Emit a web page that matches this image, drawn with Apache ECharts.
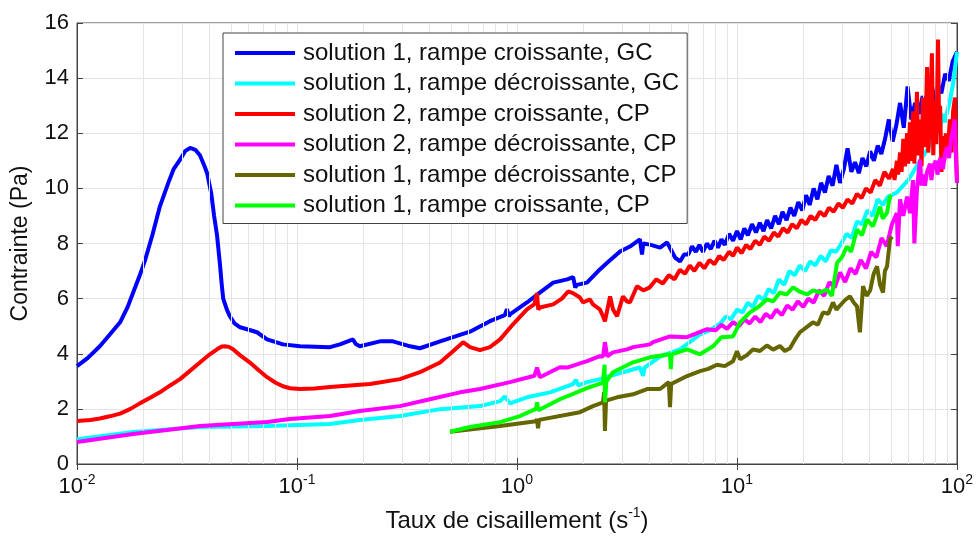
<!DOCTYPE html>
<html>
<head>
<meta charset="utf-8">
<script src="https://cdn.jsdelivr.net/npm/echarts@6/dist/echarts.min.js"></script>
<style>
  html, body { margin: 0; padding: 0; background: #fff; }
  #main { width: 978px; height: 538px; }
</style>
</head>
<body>
<div id="main"></div>
<script>
// noms des courbes (légende)
var names = [
    'solution 1, rampe croissante, GC',
    'solution 1, rampe décroissante, GC',
    'solution 2, rampe croissante, CP',
    'solution 2, rampe décroissante, CP',
    'solution 1, rampe décroissante, CP',
    'solution 1, rampe croissante, CP'
];
var colors = ['#0000ff', '#00ffff', '#ff0000', '#ff00ff', '#666600', '#00ff00'];

// [taux de cisaillement (s-1), contrainte (Pa)]
var s1CroissGC = [
    [0.01, 3.55], [0.0112, 3.85], [0.0127, 4.27], [0.0141, 4.7], [0.0157, 5.14], [0.017, 5.7],
    [0.018, 6.22], [0.0192, 6.8], [0.0204, 7.4], [0.022, 8.3], [0.0238, 9.34], [0.026, 10.2],
    [0.0275, 10.7], [0.0294, 11.04], [0.031, 11.35], [0.0327, 11.47], [0.0345, 11.4], [0.0362, 11.2],
    [0.038, 10.8], [0.039, 10.56], [0.0408, 9.8], [0.042, 9.0], [0.0433, 8.3], [0.0447, 7.2],
    [0.0455, 6.5], [0.0462, 6.0], [0.048, 5.6], [0.0495, 5.36], [0.052, 5.1], [0.0551, 4.96],
    [0.0593, 4.89], [0.0658, 4.78], [0.0731, 4.52], [0.0863, 4.34], [0.1033, 4.27], [0.1413, 4.24],
    [0.1567, 4.34], [0.1797, 4.52], [0.185, 4.35], [0.193, 4.27], [0.238, 4.45], [0.273, 4.45],
    [0.327, 4.27], [0.362, 4.2], [0.447, 4.45], [0.611, 4.8], [0.753, 5.18], [0.88, 5.4], [0.9, 5.62],
    [0.92, 5.35], [0.929, 5.43], [1.11, 5.86], [1.27, 6.22], [1.46, 6.58], [1.69, 6.7], [1.8, 6.78],
    [1.84, 6.4], [1.87, 6.5], [2.08, 6.58], [2.38, 7.06], [2.57, 7.3], [2.94, 7.71], [3.26, 7.89],
    [3.62, 8.15], [3.7, 7.6], [3.75, 8.0], [4.02, 7.96], [4.47, 7.85], [4.81, 8.04], [5.23, 7.49],
    [5.51, 7.35], [5.75, 7.6], [6.0, 7.6], [6.25, 7.9], [6.5, 7.7], [6.75, 7.95], [7.0, 7.7], [7.3, 8.0],
    [7.6, 7.8], [7.9, 8.1], [8.2, 7.85], [8.5, 8.15], [8.8, 7.95], [9.2, 8.35], [9.6, 8.1], [10.0, 8.45],
    [10.4, 8.15], [10.8, 8.55], [11.2, 8.3], [11.7, 8.7], [12.2, 8.4], [12.7, 8.75], [13.2, 8.45],
    [13.7, 8.85], [14.3, 8.55], [14.9, 9.0], [15.5, 8.7], [16.1, 9.15], [16.8, 8.85], [17.5, 9.3],
    [18.2, 9.0], [19.0, 9.5], [19.8, 9.2], [20.6, 9.75], [21.4, 9.4], [22.3, 10.0], [23.2, 9.6],
    [24.1, 10.2], [25.1, 9.85], [26.1, 10.45], [27.2, 10.1], [28.3, 10.85], [29.4, 10.2], [30.6, 10.7],
    [31.8, 11.45], [33.1, 10.6], [34.4, 10.95], [35.8, 10.55], [37.2, 11.1], [38.7, 10.8], [40.3, 11.35],
    [41.9, 11.0], [43.6, 11.55], [45.3, 11.25], [47.1, 11.8], [49.0, 12.5], [51.0, 11.7], [53.0, 12.3],
    [55.1, 13.1], [57.3, 12.2], [59.6, 13.7], [62.0, 12.5], [64.5, 13.1], [67.1, 12.7], [69.8, 13.35],
    [72.6, 12.9], [75.5, 13.45], [78.5, 13.1], [81.6, 13.8], [84.9, 13.45], [88.3, 14.15], [91.8, 13.9],
    [95.5, 14.6], [100, 14.95]
];
var s1DecroissGC = [
    [0.01, 0.9], [0.018, 1.16], [0.03622, 1.34], [0.0731, 1.38], [0.1413, 1.45], [0.193, 1.6],
    [0.2937, 1.74], [0.447, 1.99], [0.679, 2.1], [0.838, 2.28], [0.88, 2.45], [0.929, 2.2], [1.11, 2.42],
    [1.413, 2.6], [1.797, 2.9], [1.85, 3.05], [1.9, 2.85], [2.08, 2.97], [2.38, 3.08], [2.94, 3.3],
    [3.62, 3.5], [3.74, 3.2], [3.8, 3.5], [4.47, 3.9], [5.51, 4.16], [6.79, 4.7], [7.5, 4.85],
    [8.4, 5.1], [8.9, 5.35], [9.4, 5.25], [10.0, 5.6], [10.6, 5.5], [11.2, 5.85], [11.8, 5.7],
    [12.5, 6.1], [13.2, 5.95], [13.9, 6.35], [14.7, 6.2], [15.5, 6.7], [16.4, 6.5], [17.3, 7.0],
    [18.3, 6.85], [19.3, 7.2], [20.4, 7.0], [21.5, 7.35], [22.7, 7.2], [24.0, 7.55], [25.3, 7.35],
    [26.7, 7.75], [28.2, 7.7], [29.8, 8.0], [31.5, 8.35], [33.2, 8.2], [35.1, 8.8], [37.0, 8.7],
    [39.1, 9.2], [41.3, 9.0], [43.6, 9.6], [46.0, 9.4], [48.6, 9.7], [53.3, 9.85], [60, 10.3],
    [67.9, 11.0], [76, 11.6], [83.8, 12.2], [86.4, 12.7], [88, 12.4], [92.9, 13.2], [96, 13.8],
    [100, 14.95]
];
var s2CroissCP = [
    [0.01, 1.56], [0.0115, 1.6], [0.0127, 1.65], [0.0141, 1.73], [0.0157, 1.83], [0.0175, 2.0],
    [0.0193, 2.2], [0.0215, 2.4], [0.0238, 2.6], [0.0265, 2.85], [0.0294, 3.08], [0.0325, 3.37],
    [0.0362, 3.68], [0.04, 3.97], [0.0433, 4.16], [0.0455, 4.26], [0.0471, 4.27], [0.049, 4.25],
    [0.0512, 4.16], [0.055, 3.95], [0.0611, 3.68], [0.067, 3.4], [0.0731, 3.15], [0.08, 2.95],
    [0.0863, 2.82], [0.093, 2.75], [0.1033, 2.72], [0.12, 2.74], [0.1413, 2.79], [0.1567, 2.82],
    [0.2148, 2.9], [0.2937, 3.08], [0.362, 3.33], [0.447, 3.68], [0.512, 4.09], [0.569, 4.42],
    [0.611, 4.24], [0.679, 4.13], [0.753, 4.24], [0.838, 4.52], [0.959, 5.07], [1.11, 5.61], [1.2, 5.8],
    [1.233, 6.2], [1.25, 5.6], [1.27, 5.68], [1.46, 5.79], [1.6, 6.0], [1.706, 6.26], [1.797, 6.2],
    [1.932, 6.04], [1.995, 5.86], [2.147, 5.97], [2.215, 5.79], [2.38, 5.61], [2.46, 5.36], [2.51, 5.18],
    [2.65, 6.08], [2.73, 5.61], [2.85, 5.36], [3.03, 6.08], [3.16, 5.9], [3.26, 5.86], [3.51, 6.45],
    [3.75, 6.3], [4.0, 6.4], [4.3, 6.7], [4.6, 6.55], [4.9, 6.85], [5.2, 6.7], [5.5, 7.05], [5.8, 6.9],
    [6.1, 7.2], [6.4, 7.0], [6.75, 7.3], [7.1, 7.1], [7.5, 7.4], [7.9, 7.25], [8.3, 7.55], [8.7, 7.4],
    [9.2, 7.7], [9.6, 7.55], [10.0, 7.85], [10.5, 7.65], [11.0, 7.95], [11.5, 7.8], [12.1, 8.1],
    [12.7, 7.95], [13.3, 8.25], [14.0, 8.1], [14.7, 8.4], [15.4, 8.25], [16.2, 8.55], [17.0, 8.4],
    [17.8, 8.7], [18.7, 8.55], [19.6, 8.85], [20.6, 8.7], [21.6, 9.0], [22.7, 8.85], [23.8, 9.15],
    [25.0, 9.0], [26.2, 9.3], [27.5, 9.15], [28.9, 9.45], [30.3, 9.3], [31.8, 9.6], [33.4, 9.45],
    [35.1, 9.8], [36.8, 9.65], [38.6, 10.0], [40.5, 9.85], [42.5, 10.3], [44.6, 10.1], [46.8, 10.6],
    [49.1, 10.35], [51.2, 10.7], [52, 10.3], [53.3, 11.0], [54, 10.5], [55.1, 11.3], [56, 10.6],
    [57, 11.8], [58, 10.8], [59.3, 12.0], [60, 10.9], [61.1, 12.4], [62, 11.0], [63.1, 12.8], [64, 10.9],
    [65.8, 13.5], [66.5, 11.2], [67.9, 12.5], [69, 10.8], [70, 13.3], [71, 11.5], [72, 12.2],
    [73.1, 14.4], [74, 11.3], [75.4, 12.5], [76.9, 14.9], [78, 11.2], [79.4, 13.2], [80.5, 11.6],
    [82, 15.4], [83, 12.0], [83.8, 13.0], [85, 10.6], [86.4, 11.9], [87.5, 11.0], [89, 12.0],
    [90.5, 11.2], [92.9, 12.5], [94.5, 11.3], [96, 12.8], [97.9, 13.3], [99, 11.5], [100, 10.2]
];
var s2DecroissCP = [
    [0.01, 0.8], [0.018, 1.09], [0.02565, 1.23], [0.03622, 1.38], [0.0512, 1.45], [0.0731, 1.52],
    [0.0929, 1.63], [0.1413, 1.74], [0.193, 1.92], [0.2937, 2.1], [0.402, 2.35], [0.551, 2.6],
    [0.679, 2.72], [0.929, 2.97], [1.2, 3.2], [1.233, 3.5], [1.27, 3.15], [1.567, 3.51], [1.69, 3.5],
    [2.08, 3.73], [2.38, 3.91], [2.46, 3.9], [2.51, 4.42], [2.57, 3.91], [2.73, 4.05], [3.16, 4.16],
    [3.37, 4.24], [4.02, 4.34], [4.15, 4.42], [4.96, 4.63], [5.93, 4.6], [7.31, 4.89], [8.0, 4.85],
    [8.5, 5.05], [9.0, 4.9], [9.6, 5.15], [10.2, 5.0], [10.8, 5.25], [11.4, 5.1], [12.1, 5.35],
    [12.8, 5.15], [13.5, 5.45], [14.3, 5.3], [15.1, 5.6], [16.0, 5.4], [16.9, 5.75], [17.9, 5.6],
    [18.9, 5.9], [20.0, 5.7], [21.1, 6.0], [22.3, 5.85], [23.6, 6.3], [24.9, 6.1], [26.3, 6.6],
    [27.8, 6.4], [29.4, 6.95], [31.0, 6.6], [32.8, 7.1], [34.6, 6.9], [36.5, 7.4], [38.6, 7.1],
    [40.7, 7.7], [43.0, 7.5], [45.4, 8.2], [47.9, 7.9], [50.6, 8.7], [53.3, 9.1], [53.8, 7.9],
    [55.1, 9.6], [57, 9.0], [59.3, 9.7], [61.1, 9.1], [63.1, 10.3], [64, 8.0], [65.8, 10.0],
    [67.9, 11.04], [69, 10.1], [70, 10.5], [71.5, 10.1], [73.1, 10.6], [75.4, 10.9], [76.5, 10.3],
    [77.8, 10.8], [80, 11.0], [81.5, 10.5], [83.8, 11.1], [86.4, 10.7], [88, 11.2], [90.1, 11.5],
    [92, 11.1], [94, 11.8], [95.9, 12.1], [97.5, 12.5], [99, 11.0], [100, 10.2]
];
var s1DecroissCP = [
    [0.496, 1.17], [0.838, 1.38], [1.22, 1.55], [1.233, 1.63], [1.246, 1.3], [1.26, 1.6], [1.932, 1.88],
    [2.215, 2.1], [2.46, 2.24], [2.49, 2.6], [2.51, 1.2], [2.54, 2.3], [2.85, 2.42], [3.37, 2.53],
    [3.9, 2.72], [4.47, 2.72], [4.9, 2.97], [4.96, 2.06], [5.02, 2.9], [5.93, 3.19], [6.79, 3.37],
    [7.4, 3.45], [8.11, 3.6], [8.8, 3.55], [9.59, 3.73], [10.0, 4.09], [10.33, 3.8], [11.1, 3.95],
    [11.83, 4.16], [12.7, 4.1], [13.68, 4.3], [14.6, 4.15], [15.67, 4.28], [16.5, 4.1], [17.41, 4.2],
    [18.3, 4.5], [19.32, 4.78], [20.6, 4.95], [22.15, 5.14], [23.3, 5.05], [24.6, 5.5], [26, 5.45],
    [27.3, 5.86], [28.3, 5.6], [29.4, 5.75], [31, 5.95], [32.6, 6.08], [34, 5.85], [35.1, 5.72],
    [36.2, 4.78], [37.4, 6.45], [38.8, 6.1], [40.3, 6.3], [41.8, 6.9], [43.3, 7.17], [44.7, 6.5],
    [46.1, 6.22], [47, 7.0], [48.1, 7.17], [49.6, 8.15], [50.7, 8.25]
];
var s1CroissCP = [
    [0.496, 1.17], [0.611, 1.34], [0.838, 1.52], [1.032, 1.74], [1.22, 2.0], [1.233, 2.24], [1.25, 1.95],
    [1.567, 2.35], [2.08, 2.75], [2.46, 2.95], [2.5, 3.6], [2.51, 2.24], [2.55, 3.0], [2.73, 3.33],
    [3.37, 3.69], [4.02, 3.87], [4.96, 3.98], [5.0, 3.44], [5.05, 3.98], [5.93, 4.16], [6.79, 3.98],
    [7.78, 4.27], [8.5, 4.6], [9.59, 4.63], [10.33, 5.14], [11.46, 5.5], [12.5, 5.7], [13.68, 5.97],
    [14.6, 5.9], [15.67, 6.22], [16.8, 6.15], [17.98, 6.41], [19.3, 6.25], [20.8, 6.15], [22.2, 6.3],
    [23.8, 6.22], [25.6, 6.33], [27, 6.1], [28.5, 7.3], [30, 7.5], [31.6, 7.89], [33, 7.7], [35.1, 8.5],
    [37, 8.3], [39, 8.87], [41.5, 8.62], [44.7, 9.34], [46, 8.9], [48.1, 9.12], [49.5, 9.7], [50.7, 9.7]
];
var seriesData = [s1CroissGC, s1DecroissGC, s2CroissCP, s2DecroissCP, s1DecroissCP, s1CroissCP];

// graduations secondaires de l'axe log (quadrillage)
var minorTicks = [0.02, 0.03, 0.04, 0.05, 0.06, 0.07, 0.08, 0.09,
    0.2, 0.3, 0.4, 0.5, 0.6, 0.7, 0.8, 0.9,
    2, 3, 4, 5, 6, 7, 8, 9,
    20, 30, 40, 50, 60, 70, 80, 90];

var font = 'Liberation Sans, Arial, sans-serif';
var gridColor = '#e4e4e4';

var myChart = echarts.init(document.getElementById('main'));

var series = [{
    name: 'minor',
    type: 'line',
    data: [],
    z: 1,
    silent: true,
    markLine: {
        silent: true,
        symbol: 'none',
        label: { show: false },
        lineStyle: { color: gridColor, type: 'solid', width: 1 },
        data: minorTicks.map(function (v) { return { xAxis: v }; })
    }
}];
var legendData = [];
for (var i = 0; i < names.length; i++) {
    series.push({
        name: names[i],
        type: 'line',
        data: seriesData[i],
        showSymbol: false,
        symbol: 'rect',
        itemStyle: { color: colors[i], borderColor: colors[i], borderWidth: 0 },
        lineStyle: { width: 4, color: colors[i] },
        z: 3 + i
    });
    legendData.push({ name: names[i] });
}

// axes secondaires (graduations en haut et à droite)
var boxAxis = { show: true, lineStyle: { color: '#444' } };

var option = {
    animation: false,
    backgroundColor: '#fff',
    grid: {
        left: 77, right: 21, top: 23, bottom: 73,
        show: true, borderColor: '#444', borderWidth: 1
    },
    legend: {
        data: legendData,
        orient: 'vertical',
        left: 223,
        top: 33,
        z: 100,
        icon: 'rect',
        itemWidth: 60,
        itemHeight: 4,
        itemGap: 6.5,
        padding: [8, 8, 6, 12],
        backgroundColor: '#fff',
        borderColor: '#444',
        borderWidth: 1,
        borderRadius: 0,
        itemStyle: { borderWidth: 0, borderColor: 'inherit' },
        lineStyle: { width: 4 },
        textStyle: { fontFamily: font, fontSize: 24, color: '#111', lineHeight: 24, padding: [0, 0, 0, 3] }
    },
    xAxis: [{
        type: 'log',
        logBase: 10,
        min: 0.01,
        max: 100,
        name: '{n|Taux de cisaillement (s}{s|-1}{n|)}',
        nameLocation: 'middle',
        nameGap: 42,
        nameTextStyle: {
            rich: {
                n: { fontFamily: font, fontSize: 24, color: '#111', lineHeight: 24, padding: [6, 0, 0, 0] },
                s: { fontFamily: font, fontSize: 14, color: '#111', lineHeight: 14, verticalAlign: 'top' }
            }
        },
        axisLine: boxAxis,
        axisTick: { inside: true, length: 6, lineStyle: { color: '#444' } },
        splitLine: { show: true, lineStyle: { color: gridColor } },
        axisLabel: {
            margin: 9,
            formatter: function (v) {
                return '{b|10}{s|' + Math.round(Math.log10(v)) + '}';
            },
            rich: {
                b: { fontFamily: font, fontSize: 22, color: '#111', lineHeight: 22, padding: [6, 0, 0, 0] },
                s: { fontFamily: font, fontSize: 14, color: '#111', lineHeight: 14, verticalAlign: 'top' }
            }
        }
    }, {
        type: 'log',
        logBase: 10,
        min: 0.01,
        max: 100,
        position: 'top',
        axisLine: boxAxis,
        axisTick: { inside: true, length: 6, lineStyle: { color: '#444' } },
        axisLabel: { show: false },
        splitLine: { show: false }
    }],
    yAxis: [{
        type: 'value',
        min: 0,
        max: 16,
        interval: 2,
        name: 'Contrainte (Pa)',
        nameLocation: 'middle',
        nameGap: 45,
        nameTextStyle: { fontFamily: font, fontSize: 23, color: '#111' },
        axisLine: boxAxis,
        axisTick: { show: true, inside: true, length: 6, lineStyle: { color: '#444' } },
        splitLine: { show: true, lineStyle: { color: gridColor } },
        axisLabel: { fontFamily: font, fontSize: 22, color: '#111', margin: 8 }
    }, {
        type: 'value',
        min: 0,
        max: 16,
        interval: 2,
        position: 'right',
        axisLine: boxAxis,
        axisTick: { show: true, inside: true, length: 6, lineStyle: { color: '#444' } },
        axisLabel: { show: false },
        splitLine: { show: false }
    }],
    series: series
};
myChart.setOption(option);
</script>
</body>
</html>
